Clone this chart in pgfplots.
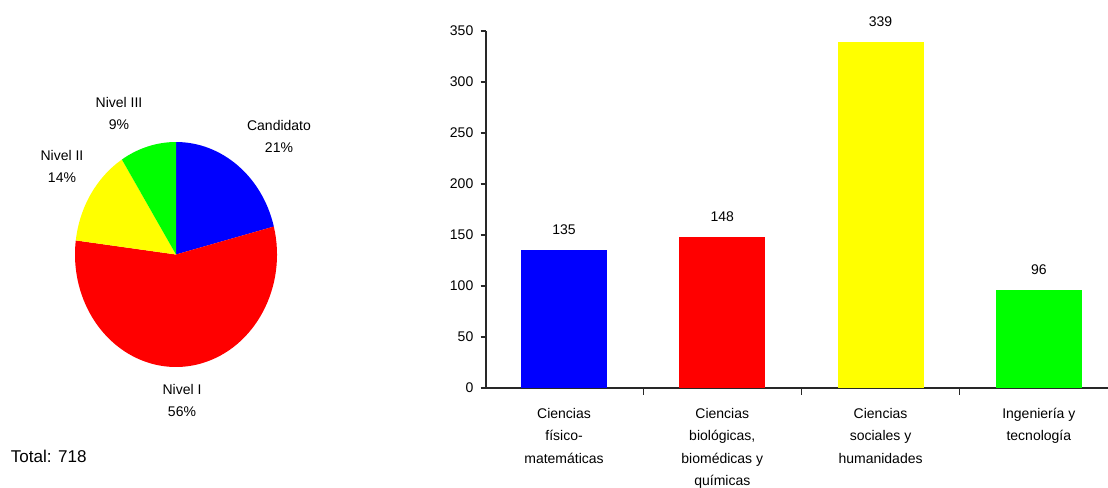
\documentclass[border=0pt]{standalone}
\usepackage{pgfplots}
\pgfplotsset{compat=1.18}
\usepackage{fontspec}
\setmainfont{Liberation Sans}
\definecolor{cblue}{RGB}{0,0,255}
\definecolor{cred}{RGB}{255,0,0}
\definecolor{cyellow}{RGB}{255,255,0}
\definecolor{cgreen}{RGB}{0,255,0}
\definecolor{axisgray}{RGB}{40,40,40}
\begin{document}
\begin{tikzpicture}
\useasboundingbox (0,0) rectangle (831pt,365.25pt);
% ---------------- pie (percentages: Candidato 21, Nivel I 56, Nivel II 14, Nivel III 9)
\begin{axis}[at={(132pt,174.375pt)}, anchor=center, scale only axis,
  width=151.5pt, height=168.75pt, xmin=-1, xmax=1, ymin=-1, ymax=1, hide axis, clip=false]
\fill[cblue] (axis cs:0,0) -- ++(90:75.75pt and 84.375pt)
  arc[start angle=90, end angle={90-3.6*21}, x radius=75.75pt, y radius=84.375pt] -- cycle;
\fill[cred] (axis cs:0,0) -- ++({90-3.6*21}:75.75pt and 84.375pt)
  arc[start angle={90-3.6*21}, end angle={90-3.6*(21+56)}, x radius=75.75pt, y radius=84.375pt] -- cycle;
\fill[cyellow] (axis cs:0,0) -- ++({90-3.6*(21+56)}:75.75pt and 84.375pt)
  arc[start angle={90-3.6*(21+56)}, end angle={90-3.6*(21+56+14)}, x radius=75.75pt, y radius=84.375pt] -- cycle;
\fill[cgreen] (axis cs:0,0) -- ++({90-3.6*(21+56+14)}:75.75pt and 84.375pt)
  arc[start angle={90-3.6*(21+56+14)}, end angle={90-3.6*(21+56+14+9)}, x radius=75.75pt, y radius=84.375pt] -- cycle;
\end{axis}
\begin{scope}[every node/.style={align=center, font=\fontsize{10.5}{16.5}\selectfont, inner sep=0pt}]
\node at (209.25pt,262.875pt) {Candidato\\21\%};
\node at (89.25pt,280.5pt) {Nivel III\\9\%};
\node at (46.5pt,240.375pt) {Nivel II\\14\%};
\node at (136.5pt,65.25pt) {Nivel I\\56\%};
\node[anchor=west, font=\fontsize{12.8}{14}\selectfont] at (8pt,23.25pt) {Total: 718};
\end{scope}
% ---------------- bars
\begin{axis}[at={(364.5pt,74.25pt)}, anchor=south west, scale only axis,
  width=466.5pt, height=267.75pt,
  ymin=0, ymax=350, ytick={0,50,...,350},
  xmin=-0.493, xmax=3.437,
  axis lines=left,
  axis line style={-, draw=axisgray, line width=1pt},
  every tick/.style={draw=axisgray, line width=1pt},
  tick align=outside,
  major tick length=4pt, minor tick length=5pt,
  xtick={0,1,2,3},
  minor xtick={-0.5,0.5,1.5,2.5},
  major x tick style={draw=none},
  xticklabels={{Ciencias\\físico-\\matemáticas},{Ciencias\\biológicas,\\biomédicas y\\químicas},{Ciencias\\sociales y\\humanidades},{Ingeniería y\\tecnología}},
  xticklabel style={align=center, font=\fontsize{10.5}{16.9}\selectfont, yshift=-7.5pt},
  yticklabel style={font=\fontsize{10.5}{12}\selectfont, xshift=-2pt},
  /pgf/number format/assume math mode=true,
  ybar, bar width=64.5pt,
  nodes near coords,
  every node near coord/.append style={font=\fontsize{10.5}{12}\selectfont, yshift=8pt, text=black},
  clip=false]
\addplot[fill=cblue, draw=none, bar shift=0pt] coordinates {(0,135)};
\addplot[fill=cred, draw=none, bar shift=0pt] coordinates {(1,148)};
\addplot[fill=cyellow, draw=none, bar shift=0pt] coordinates {(2,339)};
\addplot[fill=cgreen, draw=none, bar shift=0pt] coordinates {(3,96)};
\end{axis}
\end{tikzpicture}
\end{document}
